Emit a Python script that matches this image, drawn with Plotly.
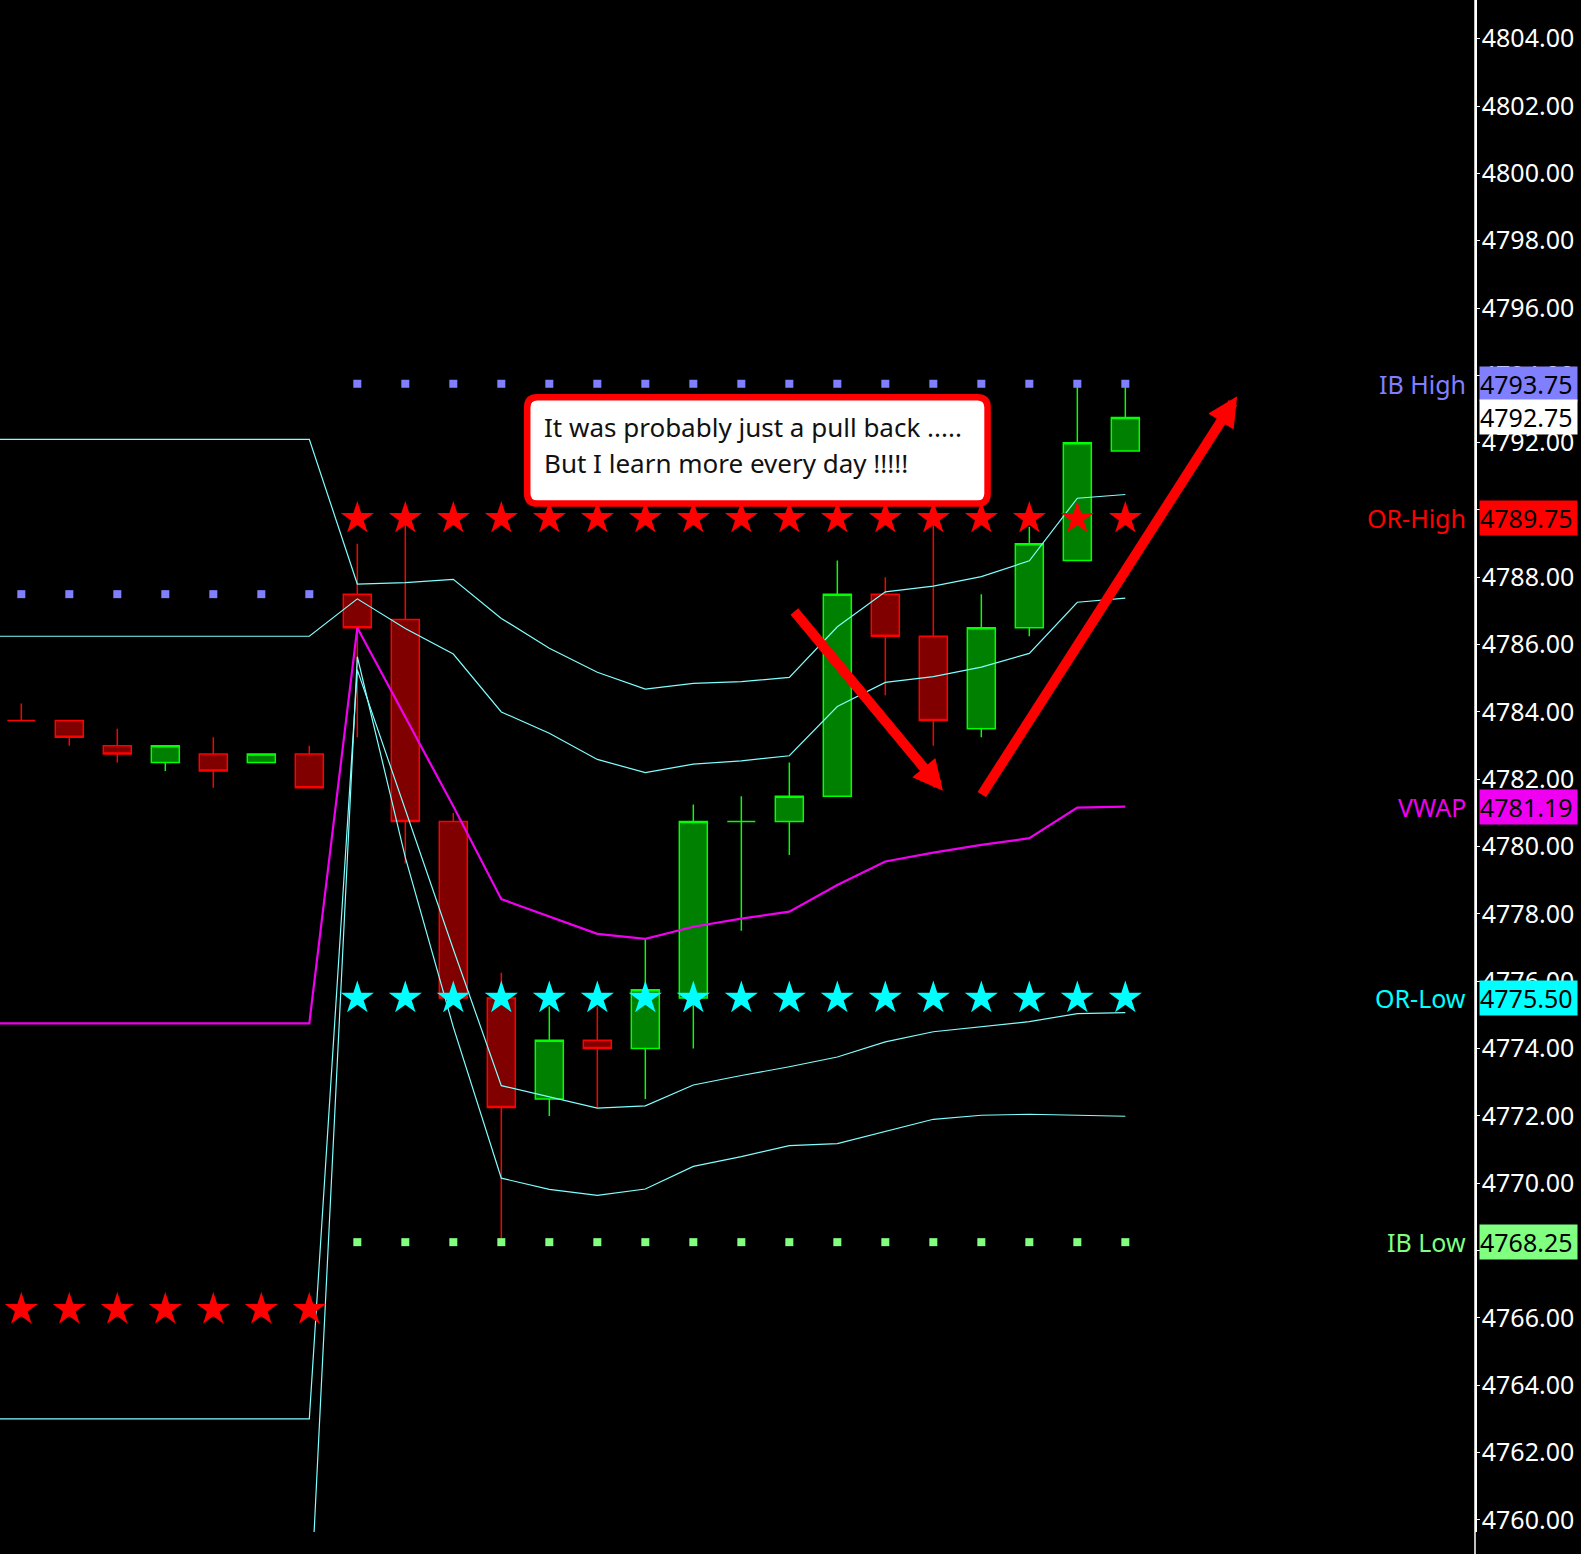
import plotly.graph_objects as go

# bar index: 0-6 = tail of the previous session, 7-23 = today (5 min bars)
bar_idx = list(range(24))
opens  = [4783.75, 4783.75, 4783.00, 4782.50, 4782.75, 4782.50, 4782.75,
          4787.50, 4786.75, 4780.75, 4775.50, 4772.50, 4774.25, 4774.00,
          4775.50, 4780.75, 4780.75, 4781.50, 4787.50, 4786.25, 4783.50,
          4786.50, 4788.50, 4791.75]
highs  = [4784.25, 4783.75, 4783.50, 4783.00, 4783.25, 4782.75, 4783.00,
          4789.00, 4789.75, 4781.00, 4776.25, 4775.25, 4775.25, 4777.25,
          4781.25, 4781.50, 4782.50, 4788.50, 4788.00, 4789.75, 4787.50,
          4789.50, 4793.75, 4793.75]
lows   = [4783.75, 4783.00, 4782.50, 4782.25, 4781.75, 4782.50, 4781.75,
          4783.25, 4779.50, 4775.50, 4768.25, 4772.00, 4772.25, 4772.50,
          4774.00, 4777.50, 4779.75, 4781.50, 4784.50, 4783.00, 4783.25,
          4786.25, 4788.50, 4791.75]
closes = [4783.75, 4783.25, 4782.75, 4783.00, 4782.25, 4782.75, 4781.75,
          4786.50, 4780.75, 4775.50, 4772.25, 4774.25, 4774.00, 4775.75,
          4780.75, 4780.75, 4781.50, 4787.50, 4786.25, 4783.75, 4786.50,
          4789.00, 4792.00, 4792.75]
doji_green = [15]

# indicator lines, x = -1 .. 23 (x=-1 only carries the old session to the left edge)
line_x = list(range(-1, 24))
band_up2 = [4792.10] * 8 + [4787.80, 4787.84, 4787.94, 4786.78, 4785.89, 4785.18,
                            4784.68, 4784.85, 4784.90, 4785.03, 4786.53, 4787.57,
                            4787.74, 4788.02, 4788.49, 4790.35, 4790.46]
band_up1 = [4786.25] * 8 + [4787.36, 4786.48, 4785.72, 4784.00, 4783.37, 4782.59,
                            4782.20, 4782.45, 4782.55, 4782.70, 4784.16, 4784.88,
                            4785.05, 4785.33, 4785.74, 4787.26, 4787.38]
vwap     = [4774.75] * 8 + [4786.50, 4783.85, 4781.20, 4778.44, 4777.92, 4777.41,
                            4777.26, 4777.62, 4777.86, 4778.07, 4778.86, 4779.56,
                            4779.82, 4780.05, 4780.25, 4781.16, 4781.19]
band_dn1 = [4763.00] * 8 + [4785.25, 4781.10, 4776.95, 4772.90, 4772.57, 4772.23,
                            4772.30, 4772.92, 4773.20, 4773.46, 4773.75, 4774.20,
                            4774.50, 4774.65, 4774.80, 4775.04, 4775.07]
band_dn2 = [4756.75] * 8 + [4785.64, 4779.68, 4774.64, 4770.15, 4769.82, 4769.64,
                            4769.83, 4770.50, 4770.79, 4771.12, 4771.18, 4771.54,
                            4771.90, 4772.02, 4772.05, 4772.02, 4771.99]

prev_idx = bar_idx[:7]
today_idx = bar_idx[7:]
prev_ib_high = 4787.50
prev_or_high = 4766.25

or_high = max(highs[7:10])
or_low = min(lows[7:10])
ib_high = max(highs[7:])
ib_low = min(lows[7:])
last_price = closes[-1]
last_vwap = vwap[-1]

y_ticks = list(range(4760, 4805, 2))

UP_FILL, UP_LINE = "#008000", "#00FF00"
DN_FILL, DN_LINE = "#800000", "#FF0000"
BAND = "#80FFFF"
MAGENTA = "#F000F0"
IB_BLUE = "#8080FF"
IB_GREEN = "#80FF80"
FONT = "Noto Sans"

fig = go.Figure()

up = [i for i in bar_idx if closes[i] > opens[i] or i in doji_green]
dn = [i for i in bar_idx if i not in up]
for sel, fill, edge in [(up, UP_FILL, UP_LINE), (dn, DN_FILL, DN_LINE)]:
    style = dict(fillcolor=fill, line=dict(color=edge, width=1.5))
    fig.add_trace(go.Candlestick(
        x=sel,
        open=[opens[i] for i in sel], high=[highs[i] for i in sel],
        low=[lows[i] for i in sel], close=[closes[i] for i in sel],
        increasing=style, decreasing=style, whiskerwidth=0,
        hoverinfo="skip", showlegend=False))

for band in [band_up2, band_up1, band_dn1, band_dn2]:
    fig.add_trace(go.Scatter(x=line_x, y=band, mode="lines",
                             line=dict(color=BAND, width=1.2), hoverinfo="skip"))
fig.add_trace(go.Scatter(x=line_x, y=vwap, mode="lines",
                         line=dict(color=MAGENTA, width=2.2), hoverinfo="skip"))

def dots(xs, level, symbol, color, size):
    fig.add_trace(go.Scatter(x=xs, y=[level] * len(xs), mode="markers",
                             marker=dict(symbol=symbol, color=color, size=size,
                                         line=dict(width=0)),
                             hoverinfo="skip"))

dots(prev_idx, prev_ib_high, "square", IB_BLUE, 8)
dots(today_idx, ib_high, "square", IB_BLUE, 8)
dots(today_idx, ib_low, "square", IB_GREEN, 8)
dots(prev_idx, prev_or_high, "star", "#FF0000", 25)
dots(today_idx, or_high, "star", "#FF0000", 25)
dots(today_idx, or_low, "star", "#00FFFF", 25)

# price tags on the right axis
tags = [("IB High", ib_high, IB_BLUE),
        ("", last_price, "#FFFFFF"),
        ("OR-High", or_high, "#FF0000"),
        ("VWAP", last_vwap, MAGENTA),
        ("OR-Low", or_low, "#00FFFF"),
        ("IB Low", ib_low, IB_GREEN)]
for name, val, col in tags:
    fig.add_annotation(xref="paper", x=1, y=val, xanchor="left", yanchor="middle",
                       xshift=4, text="%.2f" % val, showarrow=False,
                       font=dict(family=FONT, size=25, color="black"),
                       bgcolor=col, width=97, height=34, align="left", borderpad=0)
    if name:
        fig.add_annotation(xref="paper", x=1, y=val, xanchor="right", yanchor="middle",
                           xshift=-7, text=name, showarrow=False,
                           font=dict(family=FONT, size=25, color=col))

# note box
x0, x1, yb, yt = 10.54, 20.13, 4790.19, 4793.35
rx, ry = 0.21, 0.30
box = (f"M {x0+rx},{yt} L {x1-rx},{yt} Q {x1},{yt} {x1},{yt-ry} "
       f"L {x1},{yb+ry} Q {x1},{yb} {x1-rx},{yb} L {x0+rx},{yb} "
       f"Q {x0},{yb} {x0},{yb+ry} L {x0},{yt-ry} Q {x0},{yt} {x0+rx},{yt} Z")
fig.add_shape(type="path", path=box, fillcolor="white",
              line=dict(color="#FF0000", width=6.5), layer="above")
for txt, yy in [("It was probably just a pull back .....", 4792.47),
                ("But I learn more every day !!!!!", 4791.39)]:
    fig.add_annotation(x=10.84, y=yy, xanchor="left", yanchor="middle", text=txt,
                       showarrow=False, font=dict(family=FONT, size=26, color="#111111"))

# hand drawn arrows
for (tx, ty), (hx, hy) in [((16.08, 4787.03), (19.20, 4781.66)),
                           ((19.99, 4781.50), (25.33, 4793.38))]:
    fig.add_annotation(x=hx, y=hy, ax=tx, ay=ty, axref="x", ayref="y",
                       showarrow=True, arrowhead=2, arrowsize=0.6, arrowwidth=10,
                       arrowcolor="#FF0000", text="")

# axis line running to the bottom of the page
fig.add_shape(type="line", xref="paper", yref="paper", x0=1, x1=1, y0=-0.02, y1=1,
              line=dict(color="white", width=1.5))

fig.update_layout(
    width=1581, height=1554,
    margin=dict(l=0, r=106, t=0, b=22),
    paper_bgcolor="black", plot_bgcolor="black",
    showlegend=False, boxgap=0.417, boxgroupgap=0,
    xaxis=dict(range=[-0.444, 30.285], visible=False, rangeslider=dict(visible=False)),
    yaxis=dict(range=[4759.64, 4805.15], side="right", tickvals=y_ticks,
               ticktext=["%.2f" % v for v in y_ticks], showgrid=False, zeroline=False,
               showline=True, linecolor="white", linewidth=1.5,
               ticks="outside", ticklen=3, tickcolor="white", ticklabelstandoff=-3,
               tickfont=dict(family=FONT, size=25, color="white")),
)

fig.write_html("out.html", config={"displayModeBar": False},
               post_script="document.body.style.margin='0';document.body.style.background='black';")
